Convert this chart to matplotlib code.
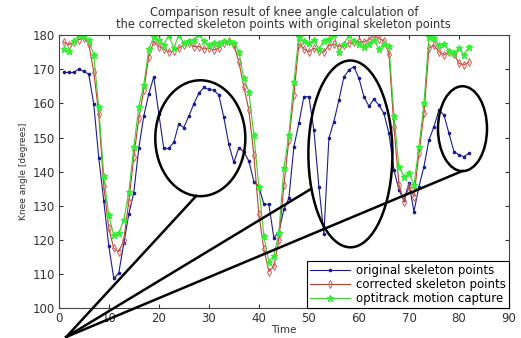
import numpy as np
import matplotlib.pyplot as plt
from matplotlib.patches import Ellipse

# sample index along the time axis
time = np.arange(1, 83)

original = [169.1, 169.1, 169.1, 170.1, 169.4, 168.6, 159.8, 144.1, 131.5, 118.3,
            108.7, 110.2, 119.0, 127.5, 133.8, 146.8, 156.3, 162.8, 167.8, 157.0,
            146.8, 146.8, 148.6, 154.0, 152.9, 156.3, 159.8, 163.0, 164.7, 164.1,
            163.9, 162.5, 155.9, 148.0, 142.7, 147.0, 145.8, 143.1, 137.1, 135.6,
            130.5, 130.4, 120.6, 122.4, 128.9, 132.2, 147.3, 154.2, 162.0, 162.0,
            152.2, 135.6, 121.7, 149.8, 154.7, 161.0, 167.8, 169.8, 170.8, 167.4,
            162.0, 159.2, 161.3, 159.5, 157.1, 151.2, 140.5, 134.6, 131.7, 136.6,
            128.3, 135.6, 141.5, 149.3, 153.2, 158.1, 156.6, 151.2, 145.9, 144.9,
            144.4, 145.4]

corrected = [178.0, 177.2, 178.0, 178.7, 179.3, 177.5, 169.3, 156.9, 135.8, 123.4,
             117.5, 116.5, 119.8, 131.2, 144.2, 155.6, 163.9, 173.7, 178.2, 176.7,
             176.0, 175.1, 175.5, 176.2, 177.2, 177.7, 176.7, 176.7, 176.0, 176.2,
             175.7, 176.2, 177.7, 178.2, 177.1, 172.2, 164.9, 158.1, 144.9, 127.5,
             117.2, 110.7, 112.2, 120.0, 136.0, 149.3, 162.5, 177.5, 176.0, 175.1,
             176.2, 175.3, 175.1, 177.0, 177.4, 176.7, 177.2, 177.7, 178.0, 178.2,
             178.0, 178.7, 180.0, 179.0, 178.4, 174.5, 153.2, 136.1, 131.2, 135.6,
             132.7, 145.4, 157.1, 176.2, 177.1, 175.2, 174.2, 175.2, 174.5, 171.8,
             171.3, 172.2]

optitrack = [176.0, 175.3, 178.2, 180.0, 179.7, 178.6, 174.3, 158.9, 138.8, 127.3,
             121.4, 121.9, 125.8, 133.9, 147.1, 159.1, 165.5, 176.0, 179.5, 178.7,
             177.2, 180.1, 176.2, 180.1, 177.7, 178.4, 178.7, 180.3, 178.2, 177.2,
             177.7, 177.7, 178.2, 178.4, 177.7, 175.2, 167.4, 163.5, 150.7, 135.6,
             121.1, 113.6, 115.3, 122.1, 141.0, 150.7, 166.4, 179.6, 178.2, 177.7,
             178.5, 176.0, 178.4, 179.0, 180.3, 175.1, 177.5, 180.0, 178.2, 177.5,
             176.5, 177.5, 178.5, 176.0, 177.5, 177.0, 156.3, 141.5, 138.5, 139.5,
             136.1, 147.3, 160.0, 179.6, 179.1, 177.1, 177.5, 175.5, 174.7, 176.2,
             174.2, 176.7]

labels = ["original skeleton points", "corrected skeleton points", "optitrack motion capture"]

# annotation shapes (data units): centre x, centre y, width, height
ellipses = [(28.3, 149.8, 18.0, 34.0),
            (58.3, 145.2, 16.8, 54.8),
            (80.7, 152.6, 9.8, 24.9)]
pointer_origin = (1.5, 91.5)
pointer_ends = [(27.5, 132.9), (50.4, 134.9), (80.7, 140.2)]

plt.rcParams['font.family'] = ['DejaVu Sans']
fig = plt.figure(figsize=(5.21, 3.38), dpi=100)
ax = fig.add_axes([0.1127, 0.0888, 0.8643, 0.8068])

ax.plot(time, original, '-', color='#1c1c8f', lw=0.8, marker='.', ms=3.2, label=labels[0])
ax.plot(time, corrected, '-', color='#b5432e', lw=0.8, marker='d', ms=4.0,
        mfc='none', mec='#d0605a', mew=0.7, label=labels[1])
ax.plot(time, optitrack, '-', color='#44cc33', lw=0.8, marker='*', ms=4.8,
        mec='#33ee33', mfc='#33ee33', label=labels[2])

for cx, cy, w, h in ellipses:
    ax.add_patch(Ellipse((cx, cy), w, h, fill=False, ec='black', lw=1.8, zorder=5))
for ex, ey in pointer_ends:
    ax.plot([pointer_origin[0], ex], [pointer_origin[1], ey], color='black', lw=1.8,
            clip_on=False, zorder=5)

ax.set_xlim(0, 90)
ax.set_ylim(100, 180)
ax.set_xticks(range(0, 91, 10))
ax.set_yticks(range(100, 181, 10))
ax.tick_params(direction='in', top=True, right=True, labelsize=8.5, colors='#333333',
               length=3, pad=3)
for s in ax.spines.values():
    s.set_color('#444444')
    s.set_linewidth(0.8)

ax.set_xlabel("Time", fontsize=7.5, color='#333333', labelpad=0)
ax.set_ylabel("Knee angle [degrees]", fontsize=6.5, color='#333333', labelpad=3)
ax.set_title("Comparison result of knee angle calculation of\n"
             "the corrected skeleton points with original skeleton points",
             fontsize=8.3, color='#333333', pad=5, linespacing=0.95)

leg = ax.legend(loc='lower right', fontsize=8.5, frameon=True, fancybox=False,
                edgecolor='black', framealpha=1, borderaxespad=0.0, handlelength=3.4,
                labelspacing=0.1, borderpad=0.25, handletextpad=0.5)
leg.get_frame().set_linewidth(0.8)
leg.set_zorder(10)

fig.savefig("out.png", dpi=100)
